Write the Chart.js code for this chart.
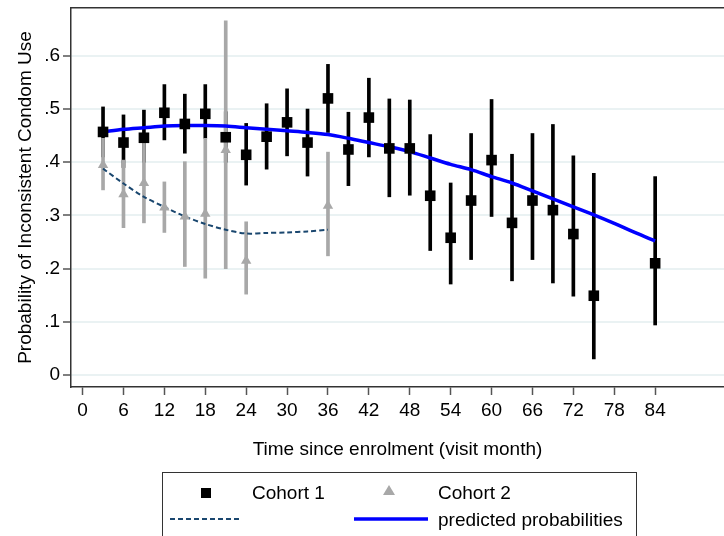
<!DOCTYPE html>
<html>
<head>
<meta charset="utf-8">
<script src="https://cdn.jsdelivr.net/npm/chart.js@4.4.1/dist/chart.umd.min.js"></script>
<style>
  body { margin: 0; background: #fff; font-family: "Liberation Sans", Arial, sans-serif; }
  #wrap { position: relative; width: 724px; height: 536px; overflow: hidden; }
  #legend { position: absolute; left: 162px; top: 472px; width: 475px; height: 90px; border: 1px solid #333; box-sizing: border-box; }
  #legend .t { position: absolute; font-size: 19px; color: #000; line-height: 22px; white-space: nowrap; }
  #legend .s { position: absolute; }
</style>
</head>
<body>
<div id="wrap">
  <canvas id="chart" width="724" height="536"></canvas>
  <div id="legend">
    <div class="s" style="left:38px;top:15px;width:10px;height:10px;background:#000;"></div>
    <div class="t" style="left:89px;top:9px;">Cohort 1</div>
    <svg class="s" style="left:219px;top:11px;" width="14" height="12"><polygon points="7,1 13,11 1,11" fill="#a8a8a8"/></svg>
    <div class="t" style="left:275px;top:9px;">Cohort 2</div>
    <svg class="s" style="left:6px;top:44px;" width="74" height="4"><line x1="1" y1="2" x2="73" y2="2" stroke="#1a476f" stroke-width="2" stroke-dasharray="5,3"/></svg>
    <svg class="s" style="left:191px;top:43px;" width="74" height="6"><line x1="0" y1="3" x2="74" y2="3" stroke="#0000ff" stroke-width="3.5"/></svg>
    <div class="t" style="left:275px;top:36px;">predicted probabilities</div>
  </div>
</div>
<script>
// Cohort 1 observed proportions with 95% CI
const c1Months = [3, 6, 9, 12, 15, 18, 21, 24, 27, 30, 33, 36, 39, 42, 45, 48, 51, 54, 57, 60, 63, 66, 69, 72, 75, 84];
const c1Prob = [.457, .437, .446, .493, .472, .491, .447, .414, .448, .475, .437, .520, .424, .484, .426, .426, .337, .258, .328, .404, .286, .328, .310, .265, .149, .210];
const c1Lo   = [.410, .390, .400, .442, .417, .445, .400, .357, .387, .412, .374, .456, .356, .410, .335, .338, .234, .171, .217, .298, .177, .217, .173, .148, .030, .094];
const c1Hi   = [.504, .489, .498, .546, .528, .546, .495, .473, .510, .538, .500, .584, .494, .558, .519, .517, .452, .361, .454, .518, .415, .454, .471, .412, .379, .373];

// Cohort 2 observed proportions with 95% CI
const c2Months = [3, 6, 9, 12, 15, 18, 21, 24, 36];
const c2Prob = [.395, .340, .361, .315, .298, .303, .423, .215, .318];
const c2Lo   = [.348, .277, .286, .268, .204, .182, .200, .152, .224];
const c2Hi   = [.445, .404, .438, .363, .401, .445, .666, .288, .419];

// predicted probabilities
const fit1Months = [3, 6, 9, 12, 15, 18, 21, 24, 27, 30, 33, 36, 39, 42, 45, 48, 51, 54, 57, 60, 63, 66, 69, 72, 75, 78, 81, 84];
const fit1 = [.457, .462, .465, .468, .469, .469, .468, .465, .462, .459, .456, .452, .445, .437, .429, .420, .408, .396, .386, .373, .361, .346, .331, .316, .301, .285, .268, .252];
const fit2Months = [3, 6, 9, 12, 15, 18, 21, 24, 27, 30, 33, 36];
const fit2 = [.388, .360, .335, .316, .298, .284, .273, .266, .267, .268, .270, .273];

const xTicks = [0, 6, 12, 18, 24, 30, 36, 42, 48, 54, 60, 66, 72, 78, 84];
const yTicks = [0, .1, .2, .3, .4, .5, .6];

const pts = (xs, ys) => xs.map((x, i) => ({ x: x, y: ys[i] }));
const bars = (xs, lo, hi) => xs.map((x, i) => ({ x: x, y: [lo[i], hi[i]] }));

const font = { family: '"Liberation Sans", Arial, sans-serif', size: 19 };

const ctx = document.getElementById('chart').getContext('2d');

new Chart(ctx, {
  type: 'line',
  data: {
    datasets: [
      {
        type: 'bar', label: 'CI 1', data: bars(c1Months, c1Lo, c1Hi),
        backgroundColor: '#000', barThickness: 3, grouped: false, borderWidth: 0, order: 6
      },
      {
        type: 'bar', label: 'CI 2', data: bars(c2Months, c2Lo, c2Hi),
        backgroundColor: '#a8a8a8', barThickness: 3, grouped: false, borderWidth: 0, order: 5
      },
      {
        type: 'line', label: 'fit 2', data: pts(fit2Months, fit2),
        borderColor: '#1a476f', borderWidth: 2, borderDash: [5, 3], pointRadius: 0, tension: 0.3, order: 4
      },
      {
        type: 'line', label: 'predicted probabilities', data: pts(fit1Months, fit1),
        borderColor: '#0000ff', borderWidth: 3.5, pointRadius: 0, tension: 0.3, order: 3
      },
      {
        type: 'line', label: 'Cohort 1', data: pts(c1Months, c1Prob), showLine: false,
        pointStyle: 'rect', pointRadius: 7.5, pointBackgroundColor: '#000', pointBorderWidth: 0, order: 2
      },
      {
        type: 'line', label: 'Cohort 2', data: pts(c2Months, c2Prob), showLine: false,
        pointStyle: 'triangle', pointRadius: 6, pointBackgroundColor: '#a8a8a8', pointBorderWidth: 0, order: 1
      }
    ]
  },
  options: {
    responsive: false,
    animation: false,
    layout: { autoPadding: false, padding: { top: 8, right: 0, bottom: 71, left: 0 } },
    plugins: { legend: { display: false }, tooltip: { enabled: false } },
    scales: {
      x: {
        type: 'linear', min: -1.7, max: 94.1, offset: false,
        afterBuildTicks: s => { s.ticks = xTicks.map(v => ({ value: v })); },
        afterFit: s => { s.height = 78; s.paddingLeft = 0; s.paddingRight = 0; },
        ticks: { font: font, color: '#000', padding: 4, maxRotation: 0, autoSkip: false },
        grid: { drawOnChartArea: false, offset: false, tickLength: 8, tickColor: '#555', tickWidth: 1.5 },
        border: { color: '#333', width: 1.5 },
        title: { display: true, text: 'Time since enrolment (visit month)', font: font, color: '#000', padding: { top: 4, bottom: 4 } }
      },
      x2: {
        type: 'linear', position: 'top', display: true,
        afterFit: s => { s.height = 0; s.paddingLeft = 0; s.paddingRight = 0; },
        ticks: { display: false },
        grid: { display: false },
        border: { color: '#333', width: 1.5 }
      },
      y: {
        type: 'linear', min: -0.0226, max: 0.690,
        afterBuildTicks: s => { s.ticks = yTicks.map(v => ({ value: v })); },
        afterFit: s => { s.width = 71; s.paddingTop = 0; s.paddingBottom = 0; },
        ticks: {
          font: font, color: '#000', padding: 3,
          callback: v => v === 0 ? '0' : v.toFixed(1).replace(/^0/, '')
        },
        grid: { color: '#eaf2f3', lineWidth: 2, tickLength: 8, tickColor: '#555', tickWidth: 1.5 },
        border: { color: '#333', width: 1.5 },
        title: { display: true, text: 'Probability of Inconsistent Condom Use', font: font, color: '#000', padding: { top: 14, bottom: 4 } }
      }
    }
  }
});
</script>
</body>
</html>
